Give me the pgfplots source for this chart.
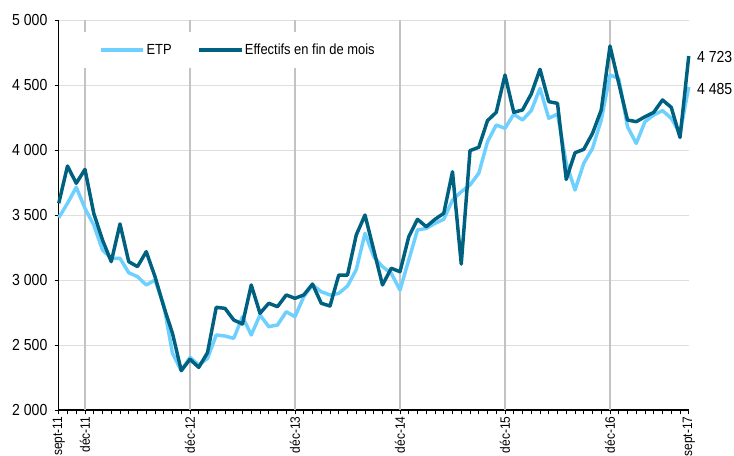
\documentclass[border=0pt]{standalone}
\usepackage{fontspec}
\setmainfont{Liberation Sans}[FakeStretch=0.88]
\usepackage{pgfplots}
\pgfplotsset{compat=1.18}
\definecolor{etp}{RGB}{110,208,255}
\definecolor{eff}{RGB}{0,96,128}
\definecolor{vgrid}{RGB}{195,195,195}
\definecolor{hgrid}{RGB}{222,222,222}
\begin{document}
\begin{tikzpicture}
\begin{axis}[
  at={(0pt,0pt)}, anchor=south west,
  scale only axis, width=472.5pt, height=292.5pt,
  xmin=0, xmax=72, ymin=2000, ymax=5000,
  clip=false,
  axis x line*=bottom, axis y line*=left,
  axis line style={black, line width=0.8pt, -},
  tick align=outside,
  major tick length=3pt, minor tick length=3pt,
  tick style={black, line width=0.6pt},
  xtick={0,3,15,27,39,51,63,72},
  xticklabels={sept-11,déc-11,déc-12,déc-13,déc-14,déc-15,déc-16,sept-17},
  minor xtick={0,1,...,72},
  xticklabel style={rotate=90, anchor=east, font=\fontsize{10.2}{12}\selectfont, inner sep=1.8pt},
  ytick={2000,2500,3000,3500,4000,4500,5000},
  yticklabels={2 000,2 500,3 000,3 500,4 000,4 500,5 000},
  yticklabel style={font=\fontsize{12}{14}\selectfont, xshift=-2pt},
  /pgf/number format/assume math mode=true,
  ymajorgrids, 
  y grid style={hgrid, line width=0.7pt},
  extra x ticks={3,15,27,39,51,63},
  extra x tick labels={},
  extra x tick style={grid=major, major grid style={vgrid, line width=1pt}},
  legend columns=2,
  legend image code/.code={\draw[#1, line width=3pt] (0pt,0pt) -- (32pt,0pt);},
  legend style={
    at={(0.031,0.923)}, anchor=west,
    fill=white, draw=none,
    inner xsep=15pt, inner ysep=8pt,
    font=\fontsize{11}{13}\selectfont,
    nodes={inner sep=1pt},
    /tikz/every even column/.append style={column sep=18pt},
  },
]
\addplot[etp, line width=2.6pt, line join=round] coordinates {
(0,3480) (1,3590) (2,3713) (3,3551) (4,3423) (5,3231) (6,3167) (7,3167) (8,3056) (9,3026)
(10,2962) (11,3000) (12,2808) (13,2436) (14,2303) (15,2405) (16,2346) (17,2397) (18,2577) (19,2569)
(20,2551) (21,2718) (22,2577) (23,2731) (24,2641) (25,2654) (26,2756) (27,2718) (28,2872) (29,2962)
(30,2910) (31,2885) (32,2897) (33,2954) (34,3080) (35,3359) (36,3179) (37,3103) (38,3051) (39,2923)
(40,3154) (41,3385) (42,3397) (43,3436) (44,3467) (45,3615) (46,3679) (47,3731) (48,3821) (49,4064)
(50,4192) (51,4167) (52,4275) (53,4231) (54,4303) (55,4474) (56,4244) (57,4277) (58,3897) (59,3692)
(60,3897) (61,4013) (62,4231) (63,4577) (64,4551) (65,4179) (66,4051) (67,4218) (68,4269) (69,4303)
(70,4244) (71,4128) (72,4485)
};
\addlegendentry{ETP}
\addplot[eff, line width=2.6pt, line join=round] coordinates {
(0,3590) (1,3877) (2,3744) (3,3851) (4,3513) (5,3308) (6,3141) (7,3431) (8,3141) (9,3103)
(10,3218) (11,3026) (12,2795) (13,2590) (14,2303) (15,2390) (16,2328) (17,2441) (18,2790) (19,2782)
(20,2692) (21,2662) (22,2962) (23,2744) (24,2821) (25,2795) (26,2885) (27,2859) (28,2885) (29,2969)
(30,2821) (31,2800) (32,3038) (33,3038) (34,3346) (35,3500) (36,3231) (37,2962) (38,3090) (39,3064)
(40,3333) (41,3467) (42,3410) (43,3467) (44,3513) (45,3833) (46,3123) (47,3995) (48,4021) (49,4226)
(50,4290) (51,4577) (52,4290) (53,4308) (54,4431) (55,4621) (56,4372) (57,4359) (58,3774) (59,3979)
(60,4005) (61,4128) (62,4308) (63,4800) (64,4513) (65,4231) (66,4218) (67,4256) (68,4290) (69,4385)
(70,4328) (71,4097) (72,4723)
};
\addlegendentry{Effectifs en fin de mois}
\node[anchor=west, inner sep=0pt, xshift=6pt, font=\fontsize{12}{14}\selectfont] at (axis cs:72,4713) {4 723};
\node[anchor=west, inner sep=0pt, xshift=6pt, font=\fontsize{12}{14}\selectfont] at (axis cs:72,4469) {4 485};
\end{axis}
\pgfresetboundingbox
\useasboundingbox (-44.06pt,-33.75pt) rectangle (506.44pt,307.5pt);
\end{tikzpicture}
\end{document}
